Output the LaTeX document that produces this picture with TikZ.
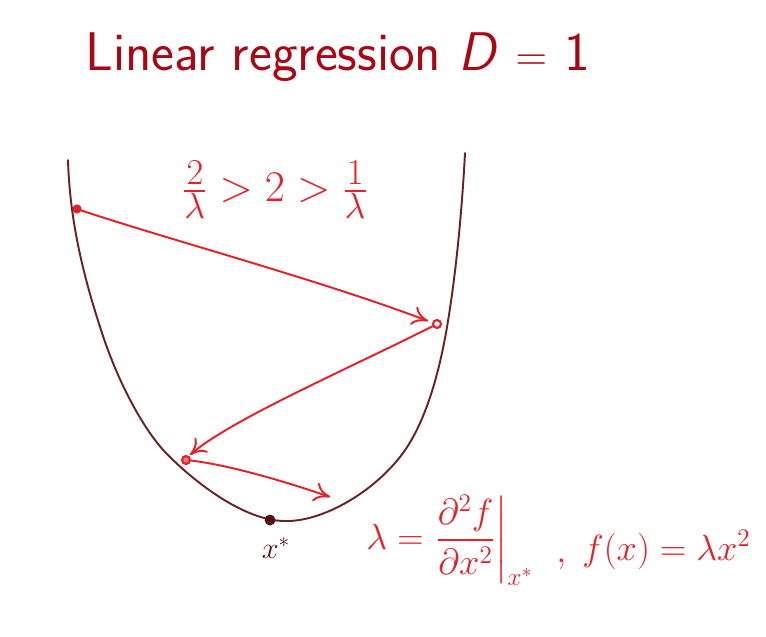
\documentclass[tikz,border=0pt]{standalone}
\usepackage{amsmath}
\usetikzlibrary{arrows.meta}
\definecolor{titlered}{RGB}{168,8,22}
\definecolor{inkred}{RGB}{228,32,40}
\definecolor{inkbrown}{RGB}{105,35,35}
\definecolor{inkdark}{RGB}{80,20,20}
\tikzset{
  curveline/.style={draw=inkbrown, line width=1.1pt, line cap=round},
  jump/.style={draw=inkred, line width=1.1pt, line cap=round, -{To[length=9pt,width=11pt,line width=1.1pt]}},
  iterdot/.style={circle, draw=inkred, line width=1.2pt, fill=inkred!60, inner sep=1.6pt},
  mindot/.style={circle, fill=inkdark, inner sep=2.2pt},
  hand/.style={text=inkred, inner sep=0pt},
}
\begin{document}
\begin{tikzpicture}[x=0.02cm,y=-0.02cm]
\useasboundingbox (0,0) rectangle (766,636);
% title
\node[anchor=base west, text=titlered, inner sep=0pt, font=\sffamily\fontsize{31}{36}\selectfont] (title) at (85,70) {Linear regression \textsl{D} $=$ 1};
% parabola
\draw[curveline] (68,160) .. controls (70,230) and (88,290) .. (102,333)
  .. controls (116,376) and (140,425) .. (165,452)
  .. controls (195,483) and (245,521) .. (285,521)
  .. controls (320,522) and (370,495) .. (400,457)
  .. controls (423,428) and (438,380) .. (447,327)
  .. controls (456,274) and (462,210) .. (465,153);
% points
\node[iterdot, inner sep=1.4pt, fill=inkred] (p0) at (77,209) {};
\node[iterdot, fill=white] (p1) at (437,324) {};
\node[iterdot] (p2) at (186,460) {};
\coordinate (p3) at (330,497);
\coordinate (t1) at (428,321);
\coordinate (t2) at (190,455);
\node[mindot] (pmin) at (270,520) {};
% jumps
\draw[jump] (p0) .. controls (170,240) and (320,280) .. (t1);
\draw[jump] (p1) .. controls (350,368) and (230,420) .. (t2);
\draw[jump] (p2) .. controls (230,465) and (290,483) .. (p3);
% labels
\node[text=inkdark, inner sep=0pt, font=\fontsize{18}{20}\selectfont] (xstar) at (276,548) {$x^{*}$};
\node[hand, font=\fontsize{30}{34}\selectfont] (ineq) at (275,190) {$\frac{2}{\lambda} > 2 > \frac{1}{\lambda}$};
\node[hand, font=\fontsize{21}{26}\selectfont, anchor=west] (formula) at (366,540) {$\lambda = \left.\dfrac{\partial^2 f}{\partial x^2}\right|_{x^*}$};
\node[hand, font=\fontsize{22}{26}\selectfont, anchor=base west] (comma) at (556,562) {$,$};
\node[hand, font=\fontsize{22}{26}\selectfont, anchor=base west] (fdef) at (582,560) {$f(x) = \lambda x^2$};
\end{tikzpicture}
\end{document}
